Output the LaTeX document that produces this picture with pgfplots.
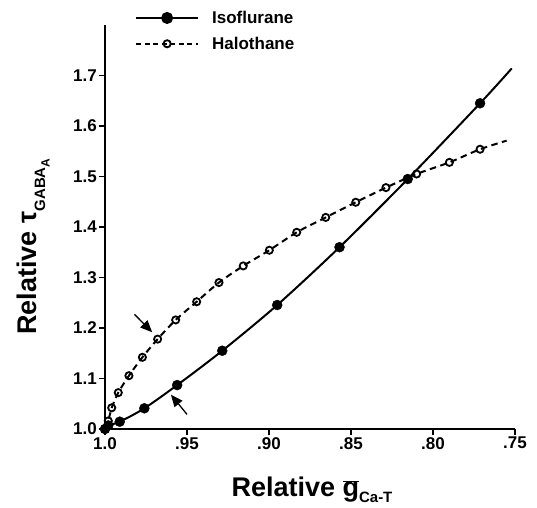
\documentclass[border=0pt]{standalone}
\usepackage{fontspec}
\setmainfont{Liberation Sans}
\usepackage{pgfplots}
\pgfplotsset{compat=1.18}
\usetikzlibrary{arrows.meta}
\begin{document}
\begin{tikzpicture}[x=1pt,y=1pt]
\useasboundingbox (-105pt,-78pt) rectangle (432pt,429pt);
\begin{axis}[
  at={(0,0)}, anchor=south west,
  scale only axis, width=410pt, height=404pt,
  xmin=0.75, xmax=1, ymin=1, ymax=1.8,
  x dir=reverse,
  axis x line*=bottom, axis y line*=left,
  axis line style={line width=2.2pt},
  tick align=outside, major tick length=6pt,
  tick style={line width=1.8pt, black},
  xtick={1,0.95,0.9,0.85,0.8,0.75},
  xticklabels={1.0,.95,.90,.85,.80,.75},
  ytick={1,1.1,1.2,1.3,1.4,1.5,1.6,1.7},
  yticklabels={1.0,1.1,1.2,1.3,1.4,1.5,1.6,1.7},
  /pgf/number format/assume math mode=true,
  ticklabel style={font=\fontsize{17}{19}\selectfont\bfseries},
  xticklabel style={inner sep=1pt, yshift=-1pt},
  yticklabel style={inner sep=2pt},
  clip=false,
  xlabel={Relative $\overline{\hbox{\bfseries g}}$\raisebox{-0.22em}{\fontsize{15}{15}\selectfont Ca-T}},
  ylabel={Relative τ\raisebox{-0.3em}{\fontsize{15}{15}\selectfont GABA\raisebox{-0.3em}{\fontsize{12}{12}\selectfont A}}},
  label style={font=\fontsize{27}{30}\selectfont\bfseries},
  xlabel style={at={(axis description cs:0.3,-0.168)}, anchor=base west},
  ylabel style={at={(axis description cs:-0.166,0.225)}, anchor=base west},
  legend style={draw=none, fill=none, at={(axis description cs:0.073,1.040)}, anchor=north west,
    font=\fontsize{17}{19}\selectfont\bfseries, row sep=8pt, inner sep=0pt,
    /tikz/every odd column/.append style={column sep=11pt}},
  legend cell align=left,
  legend image code/.code={\draw[mark repeat=2,mark phase=2] plot coordinates {(0pt,0pt) (31pt,0pt) (62pt,0pt)};},
]
% Isoflurane line
\addplot[line width=2pt, smooth, tension=0.5, forget plot] coordinates {
(1.0,1.0) (0.998,1.007) (0.991,1.0145) (0.976,1.041) (0.956,1.087) (0.9285,1.155)
(0.895,1.2455) (0.857,1.360) (0.8154,1.495) (0.7713,1.645) (0.752,1.714)};
% Halothane line
\addplot[line width=2pt, dash pattern=on 6.5pt off 4.5pt, smooth, tension=0.5, forget plot] coordinates {
(1.0,1.0) (0.998,1.016) (0.9959,1.042) (0.9919,1.072) (0.9854,1.1056) (0.9772,1.142)
(0.9679,1.178) (0.9569,1.216) (0.9441,1.252) (0.9305,1.290) (0.9157,1.323) (0.8998,1.354)
(0.8831,1.3895) (0.8654,1.419) (0.8471,1.449) (0.8287,1.478) (0.81,1.505) (0.790,1.528)
(0.7713,1.554) (0.7551,1.571)};
% Isoflurane marks
\addplot[only marks, mark=*, mark size=5pt, mark options={fill=black, draw=black}, forget plot] coordinates {
(1.0,1.0) (0.998,1.007) (0.991,1.0145) (0.976,1.041) (0.956,1.087) (0.9285,1.155)
(0.895,1.2455) (0.857,1.360) (0.8154,1.495) (0.7713,1.645)};
% Halothane marks
\addplot[only marks, mark=o, mark size=3.6pt, mark options={fill=white, draw=black, line width=1.8pt, solid}, forget plot] coordinates {
(1.0,1.0) (0.998,1.016) (0.9959,1.042) (0.9919,1.072) (0.9854,1.1056) (0.9772,1.142)
(0.9679,1.178) (0.9569,1.216) (0.9441,1.252) (0.9305,1.290) (0.9157,1.323) (0.8998,1.354)
(0.8831,1.3895) (0.8654,1.419) (0.8471,1.449) (0.8287,1.478) (0.81,1.505) (0.790,1.528)
(0.7713,1.554)};
\addlegendimage{line width=2pt, mark=*, mark size=5pt, mark options={fill=black}}
\addlegendentry{Isoflurane}
\addlegendimage{line width=2pt, dash pattern=on 5pt off 3.5pt, mark=o, mark size=3.6pt, mark options={fill=white, line width=1.8pt, solid}}
\addlegendentry{Halothane}
% arrows
\draw[line width=1.3pt, -{Triangle[length=12pt,width=10pt]}] (axis cs:0.9820,1.2270) -- (axis cs:0.9712,1.1915);
\draw[line width=1.3pt, -{Triangle[length=12pt,width=10pt]}] (axis cs:0.9500,1.029) -- (axis cs:0.9598,1.068);
\end{axis}
\end{tikzpicture}
\end{document}
